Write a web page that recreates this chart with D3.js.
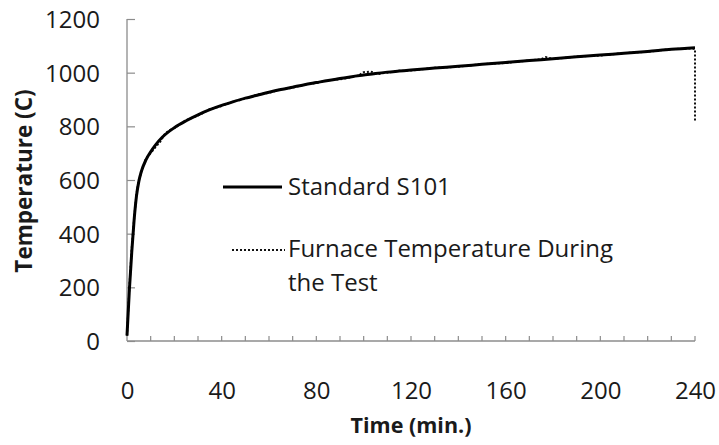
<!DOCTYPE html>
<html>
<head>
<meta charset="utf-8">
<script src="https://cdn.jsdelivr.net/npm/d3@7"></script>
<style>
  html, body { margin: 0; padding: 0; background: #fff; }
  svg { display: block; }
  text { font-family: "Open Sans", "Liberation Sans", sans-serif; fill: #1a1a1a; }
</style>
</head>
<body>
<svg id="chart" width="719" height="445"></svg>
<script>
// ---- data ----
const xTicks = [0, 40, 80, 120, 160, 200, 240];
const yTicks = [0, 200, 400, 600, 800, 1000, 1200];

const standardTime = [0, 1, 2, 3, 4, 5, 6, 8, 10, 12, 15, 20, 25, 30, 35, 40, 45, 50, 55, 60, 65, 70, 75, 80, 85, 90, 95, 100, 105, 110, 115, 120, 130, 140, 150, 160, 170, 180, 190, 200, 210, 220, 230, 240];
const standardTemp = [20, 190, 330, 450, 540, 595, 630, 675, 705, 730, 760, 795, 821, 843, 862, 878, 892, 905, 916, 927, 937, 946, 955, 963, 971, 978, 985, 991, 997, 1002, 1006, 1010, 1017, 1024, 1031, 1038, 1045, 1052, 1059, 1066, 1072, 1079, 1087, 1093];

const furnaceTime = [0, 1, 2, 3, 4, 5, 6, 8, 10, 12, 14, 16, 18, 20, 25, 30, 35, 40, 45, 50, 55, 60, 65, 70, 75, 80, 85, 90, 95, 98, 100, 103, 106, 110, 115, 120, 130, 140, 150, 160, 170, 175, 177, 180, 190, 200, 210, 220, 230, 239, 240, 240];
const furnaceTemp = [20, 200, 345, 455, 548, 600, 628, 680, 700, 722, 742, 772, 786, 793, 823, 840, 864, 876, 893, 903, 918, 925, 938, 944, 956, 961, 972, 975, 983, 990, 1002, 1004, 995, 1000, 1007, 1008, 1018, 1022, 1032, 1036, 1046, 1050, 1058, 1051, 1060, 1064, 1073, 1078, 1088, 1090, 1088, 815];

const seriesNames = ["Standard S101", "Furnace Temperature During", "the Test"];

// ---- layout ----
const svg = d3.select("#chart");
const x = d3.scaleLinear().domain([0, 240]).range([127, 695]);
const y = d3.scaleLinear().domain([0, 1200]).range([341, 19]);
const axisColor = "#8c8c8c";

// axes lines
svg.append("line").attr("x1", x(0)).attr("x2", x(240)).attr("y1", y(0)).attr("y2", y(0))
  .attr("stroke", axisColor).attr("stroke-width", 1.3);
svg.append("line").attr("x1", x(0)).attr("x2", x(0)).attr("y1", y(0)).attr("y2", y(1200))
  .attr("stroke", axisColor).attr("stroke-width", 1.3);

// y ticks (inside)
const yAxis = d3.axisLeft(y).tickValues(yTicks).tickSize(0).tickPadding(27).tickFormat(d3.format("d"));
const gy = svg.append("g").attr("transform", `translate(${x(0)},0)`).call(yAxis);
gy.select(".domain").remove();
gy.selectAll("text").style("font-size", "24px").attr("dy", "0.35em");
gy.selectAll(".tick").append("line").attr("x1", 0).attr("x2", 8).attr("stroke", axisColor).attr("stroke-width", 1.2);

// x minor ticks (inside), every 10 minutes
const minor = d3.range(10, 241, 10);
svg.append("g").selectAll("line").data(minor).join("line")
  .attr("x1", d => x(d)).attr("x2", d => x(d)).attr("y1", y(0)).attr("y2", y(0) - 5)
  .attr("stroke", axisColor).attr("stroke-width", 1.2);

const xAxis = d3.axisBottom(x).tickValues(xTicks).tickSize(0).tickPadding(58).tickFormat(d3.format("d"));
const gx = svg.append("g").attr("transform", `translate(0,${y(0)})`).call(xAxis);
gx.select(".domain").remove();
gx.selectAll("text").style("font-size", "24px").attr("dy", "0");

// axis titles
svg.append("text").attr("x", 411).attr("y", 433).attr("text-anchor", "middle")
  .style("font-size", "21.5px").style("font-weight", "bold").text("Time (min.)");
svg.append("text").attr("transform", "translate(32,181) rotate(-90)").attr("text-anchor", "middle")
  .style("font-size", "22.5px").style("font-weight", "bold").text("Temperature (C)");

// lines
const line = d3.line().x(d => x(d[0])).y(d => y(d[1]));
const stdData = standardTime.map((t, i) => [t, standardTemp[i]]);
const furData = furnaceTime.map((t, i) => [t, furnaceTemp[i]]);

svg.append("path").datum(furData)
  .attr("d", d3.line().x(d => x(d[0])).y(d => y(d[1]))(furData))
  .attr("fill", "none").attr("stroke", "#111").attr("stroke-width", 2).attr("stroke-dasharray", "2,2");

svg.append("path").datum(stdData)
  .attr("d", line.curve(d3.curveMonotoneX))
  .attr("fill", "none").attr("stroke", "#000").attr("stroke-width", 3);

// legend
svg.append("line").attr("x1", 223).attr("x2", 282).attr("y1", 187).attr("y2", 187)
  .attr("stroke", "#000").attr("stroke-width", 3);
svg.append("text").attr("x", 288).attr("y", 187).attr("dy", "0.35em").style("font-size", "24px").text(seriesNames[0]);

svg.append("line").attr("x1", 232).attr("x2", 285).attr("y1", 250).attr("y2", 250)
  .attr("stroke", "#111").attr("stroke-width", 2).attr("stroke-dasharray", "2,2");
svg.append("text").attr("x", 288).attr("y", 249).attr("dy", "0.35em").style("font-size", "24px").text(seriesNames[1]);
svg.append("text").attr("x", 288).attr("y", 283).attr("dy", "0.35em").style("font-size", "24px").text(seriesNames[2]);
</script>
</body>
</html>
